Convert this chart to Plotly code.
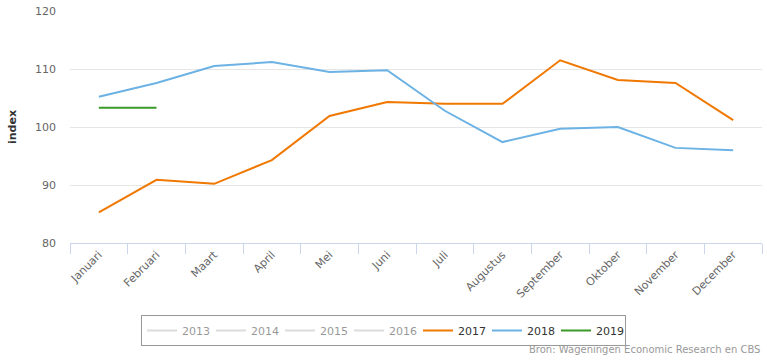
import plotly.graph_objects as go

months = ["Januari", "Februari", "Maart", "April", "Mei", "Juni", "Juli",
          "Augustus", "September", "Oktober", "November", "December"]
v2017 = [85.3, 90.9, 90.2, 94.3, 101.9, 104.3, 104.0, 104.0, 111.5, 108.1, 107.6, 101.2]
v2018 = [105.2, 107.6, 110.5, 111.2, 109.5, 109.8, 102.8, 97.4, 99.7, 100.0, 96.4, 96.0]
v2019 = [103.3, 103.3]
hidden_years = ["2013", "2014", "2015", "2016"]

font = "DejaVu Sans, Verdana, sans-serif"
fig = go.Figure()
for y in hidden_years:
    fig.add_trace(go.Scatter(x=months, y=[None] * 12, name=y, mode="lines",
                             line=dict(color="#bbbbbb", width=2), visible="legendonly"))
fig.add_trace(go.Scatter(x=months, y=v2017, name="2017", mode="lines",
                         line=dict(color="#f07800", width=2)))
fig.add_trace(go.Scatter(x=months, y=v2018, name="2018", mode="lines",
                         line=dict(color="#6cb2e4", width=2)))
fig.add_trace(go.Scatter(x=months[:2], y=v2019, name="2019", mode="lines",
                         line=dict(color="#3a9a2a", width=2)))

fig.update_layout(
    width=767, height=360,
    margin=dict(l=70, r=5, t=11, b=117, autoexpand=False),
    paper_bgcolor="white", plot_bgcolor="white",
    font=dict(family=font, size=11, color="#333333"),
    showlegend=True,
    legend=dict(orientation="h", xref="container", yref="container",
                x=0.5, xanchor="center", y=0.125, yanchor="top",
                bordercolor="#999999", borderwidth=1, bgcolor="white",
                font=dict(size=11, color="#333333"), entrywidth=24,
                itemwidth=30, tracegroupgap=0,
                itemclick=False, itemdoubleclick=False),
    xaxis=dict(type="category", showgrid=False, showline=True, linecolor="#ccd6eb",
               ticks="outside", tickson="boundaries", tickcolor="#ccd6eb", ticklen=10,
               tickangle=-45, tickfont=dict(size=11, color="#666666"),
               range=[-0.5, 11.5], fixedrange=True, automargin=False),
    yaxis=dict(range=[80, 120], dtick=10, showgrid=True, gridcolor="#e6e6e6",
               zeroline=False, showline=False, tickfont=dict(size=11, color="#666666"),
               ticks="", ticklabelstandoff=13, automargin=False,
               title=dict(text="<b>index</b>", font=dict(size=11, color="#333333"), standoff=16),
               fixedrange=True),
    annotations=[dict(text="Bron: Wageningen Economic Research en CBS", xref="paper",
                      yref="paper", x=1, y=0, xanchor="right", yanchor="middle",
                      yshift=-106, showarrow=False,
                      font=dict(size=10, color="#999999"))],
)
fig.write_html("out.html", config={"displayModeBar": False},
               post_script="document.body.style.margin='0';document.body.style.overflow='hidden';")
